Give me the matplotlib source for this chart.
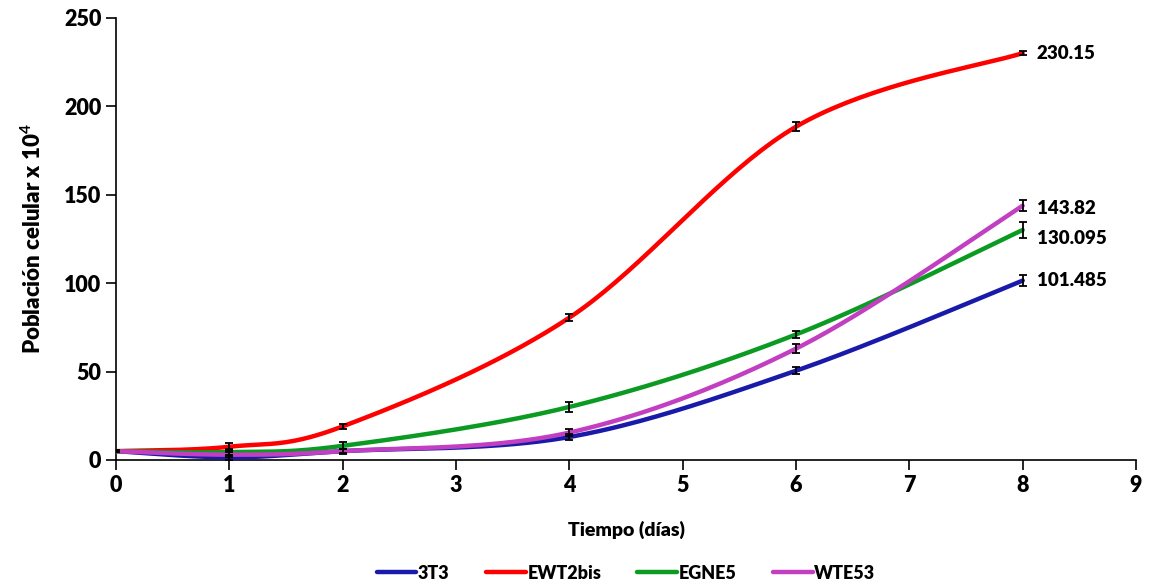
import numpy as np
import matplotlib.pyplot as plt

# data
dias = [0, 1, 2, 4, 6, 8]
series_names = ['3T3', 'EWT2bis', 'EGNE5', 'WTE53']
v_3t3 = [5, 1.5, 5, 13, 50.5, 101.485]
v_ewt2bis = [5, 7.5, 19, 80.5, 188.5, 230.15]
v_egne5 = [5, 4.5, 8, 30, 71, 130.095]
v_wte53 = [5, 3, 5, 15.5, 63, 143.82]
err_3t3 = [0.5, 1.5, 1, 1.5, 2, 3]
err_ewt2bis = [0.5, 2, 1.5, 2, 2.5, 1]
err_egne5 = [0.5, 1.5, 2, 3, 2, 4.5]
err_wte53 = [0.5, 1.5, 1.5, 2, 2.5, 3]
end_labels = ['101.485', '230.15', '130.095', '143.82']

colors = ['#1a1aaa', '#ff0000', '#0b9a22', '#c23fc2']
plt.rcParams['font.family'] = ['Lato', 'DejaVu Sans']
plt.rcParams['mathtext.fontset'] = 'custom'
plt.rcParams['mathtext.rm'] = 'Lato:bold'
plt.rcParams['mathtext.bf'] = 'Lato:bold'


def smooth(x, y, n=40):
    # Excel-like smoothed line (Catmull-Rom bezier)
    x = np.asarray(x, float)
    y = np.asarray(y, float)
    px = np.concatenate([[x[0]], x, [x[-1]]])
    py = np.concatenate([[y[0]], y, [y[-1]]])
    xs, ys = [], []
    t = np.linspace(0, 1, n)
    for i in range(1, len(px) - 2):
        p0 = np.array([px[i - 1], py[i - 1]])
        p1 = np.array([px[i], py[i]])
        p2 = np.array([px[i + 1], py[i + 1]])
        p3 = np.array([px[i + 2], py[i + 2]])
        c1 = p1 + (p2 - p0) / 6
        c2 = p2 - (p3 - p1) / 6
        b = ((1 - t) ** 3)[:, None] * p1 + (3 * (1 - t) ** 2 * t)[:, None] * c1 \
            + (3 * (1 - t) * t ** 2)[:, None] * c2 + (t ** 3)[:, None] * p2
        xs.extend(b[:, 0])
        ys.extend(b[:, 1])
    return np.array(xs), np.array(ys)


fig = plt.figure(figsize=(11.5, 5.85), dpi=100)
ax = fig.add_axes([116 / 1150, 1 - 460 / 585, 1020 / 1150, 442 / 585])

values = [v_3t3, v_ewt2bis, v_egne5, v_wte53]
errors = [err_3t3, err_ewt2bis, err_egne5, err_wte53]
label_dy = [0, 0, -6, -2]

for name, vals, errs, col, lab, dy in zip(series_names, values, errors, colors, end_labels, label_dy):
    sx, sy = smooth(dias, vals)
    ax.plot(sx, sy, color=col, lw=3.2, label=name, zorder=3, solid_capstyle='round')
    ax.errorbar(dias, vals, yerr=errs, fmt='none', ecolor='black', elinewidth=1.3,
                capsize=3, capthick=1.3, zorder=4)
    ax.annotate(lab, (dias[-1], vals[-1]), xytext=(10, dy), textcoords='offset points',
                ha='left', va='center', fontsize=13.5, fontweight='heavy')

ax.set_xlim(0, 9)
ax.set_ylim(0, 250)
ax.set_xticks(range(0, 10))
ax.set_yticks(range(0, 251, 50))
ax.spines['top'].set_visible(False)
ax.spines['right'].set_visible(False)
ax.spines['left'].set_linewidth(1.2)
ax.spines['bottom'].set_linewidth(1.2)
ax.tick_params(direction='out', length=7, width=1.2, labelsize=15.5)
for t in ax.get_xticklabels() + ax.get_yticklabels():
    t.set_fontweight('heavy')

ax.set_xlabel('Tiempo (días)', fontsize=14, fontweight='heavy', labelpad=18)
ax.set_ylabel('Población celular x 10$^{4}$', fontsize=16, fontweight='heavy', labelpad=14)

ax.legend(loc='upper center', bbox_to_anchor=(0.5, -0.2), ncol=4, frameon=False,
          prop={'weight': 'heavy', 'size': 13}, handlelength=2.2, handletextpad=0.1,
          columnspacing=2.0)

fig.savefig('out.png', dpi=100)
